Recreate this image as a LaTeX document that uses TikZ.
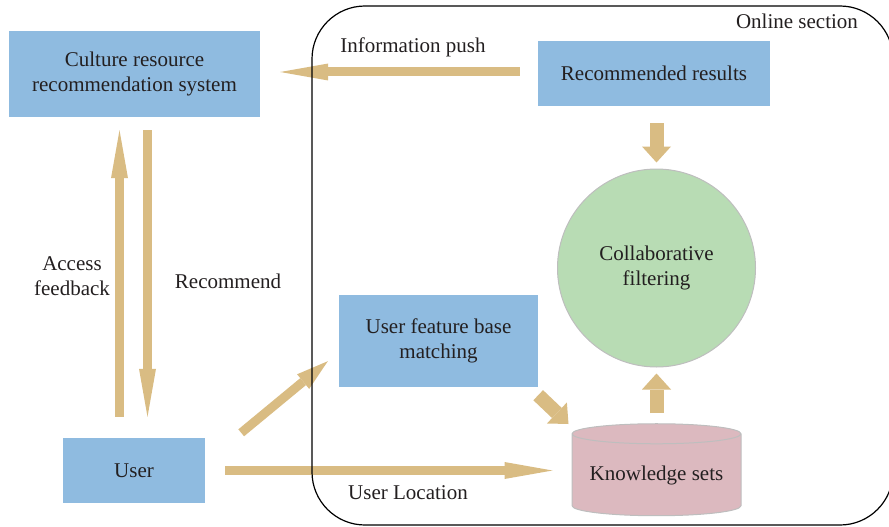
\documentclass[tikz,border=0pt]{standalone}
\usepackage{fontspec}
\setmainfont{Liberation Serif}
\usetikzlibrary{arrows.meta}
\usetikzlibrary{shapes.geometric}
\definecolor{boxblue}{RGB}{143,187,224}
\definecolor{cfgreen}{RGB}{184,220,180}
\definecolor{kpink}{RGB}{220,185,191}
\definecolor{arrowtan}{RGB}{217,188,131}
\definecolor{edgegray}{RGB}{190,190,190}
\definecolor{txt}{RGB}{35,31,32}
\tikzset{
  box/.style={fill=boxblue, inner sep=0pt, align=center},
  fat/.style={draw=arrowtan, line width=9pt, -{Triangle[length=48pt,width=17pt,line width=0pt]}},
  diag/.style={draw=arrowtan, line width=9pt, -{Triangle[length=32pt,width=19pt,line width=0pt]}},
  stub/.style={draw=arrowtan, line width=14pt, -{Triangle[length=16pt,width=29pt,line width=0pt]}}
}
\begin{document}
\begin{tikzpicture}[x=1pt,y=-1pt,font=\fontsize{21}{25}\selectfont,text=txt]
\useasboundingbox (0,0) rectangle (889,527);
\clip (0,0) rectangle (889,527);
% boxes
\node [box, minimum width=251pt, minimum height=86pt] (culture) at (134.5,74) {Culture resource\\recommendation system};
\node [box, minimum width=232pt, minimum height=65pt] (results) at (654,73.5) {Recommended results};
\node [circle, fill=cfgreen, draw=edgegray, line width=1pt, minimum size=198pt, inner sep=0pt, align=center] (cf) at (656.5,268) {Collaborative\\filtering};
\node [box, minimum width=199pt, minimum height=92pt] (ufb) at (438.5,341) {User feature base\\matching};
\node [box, minimum width=142pt, minimum height=65pt] (user) at (134,470.5) {User};
\node [cylinder, shape border rotate=90, aspect=0.15, fill=kpink, draw=edgegray, line width=1pt, minimum width=169pt, minimum height=92pt, inner sep=0pt] (know) at (656.5,475) {Knowledge sets};
% labels
\node (online) at (797,21) {Online section};
\node (push) at (413,47) {Information push};
\node [align=center] (access) at (72,276) {Access\\feedback};
\node (recommend) at (228,281) {Recommend};
\node (location) at (408,493) {User Location};
% arrows
\draw [fat] ([xshift=-18pt,yshift=1.5pt]results.west) -- ([xshift=20pt,yshift=2pt]culture.east);
\draw [fat] ([xshift=-14.5pt,yshift=21pt]user.north) -- ([xshift=-15pt,yshift=-13pt]culture.south);
\draw [fat] ([xshift=13pt,yshift=-13pt]culture.south) -- ([xshift=13.5pt,yshift=21pt]user.north);
\draw [fat] ([xshift=20pt]user.east) -- ([xshift=-19pt,yshift=4.5pt]know.west);
\draw [diag] ([xshift=36pt,yshift=5pt]user.north east) -- ([xshift=-11pt,yshift=26pt]ufb.south west);
\draw [stub] ([xshift=2.5pt,yshift=-17pt]results.south) -- ([yshift=6pt]cf.north);
\draw [stub] ([yshift=10pt]know.north) -- ([yshift=-6pt]cf.south);
\draw [stub] ([yshift=-8pt]ufb.south east) -- ([xshift=-3pt,yshift=51pt]know.west);
% online section frame
\draw [line width=1.2pt, rounded corners=53pt] (312,6) rectangle (893,525);
\end{tikzpicture}
\end{document}
